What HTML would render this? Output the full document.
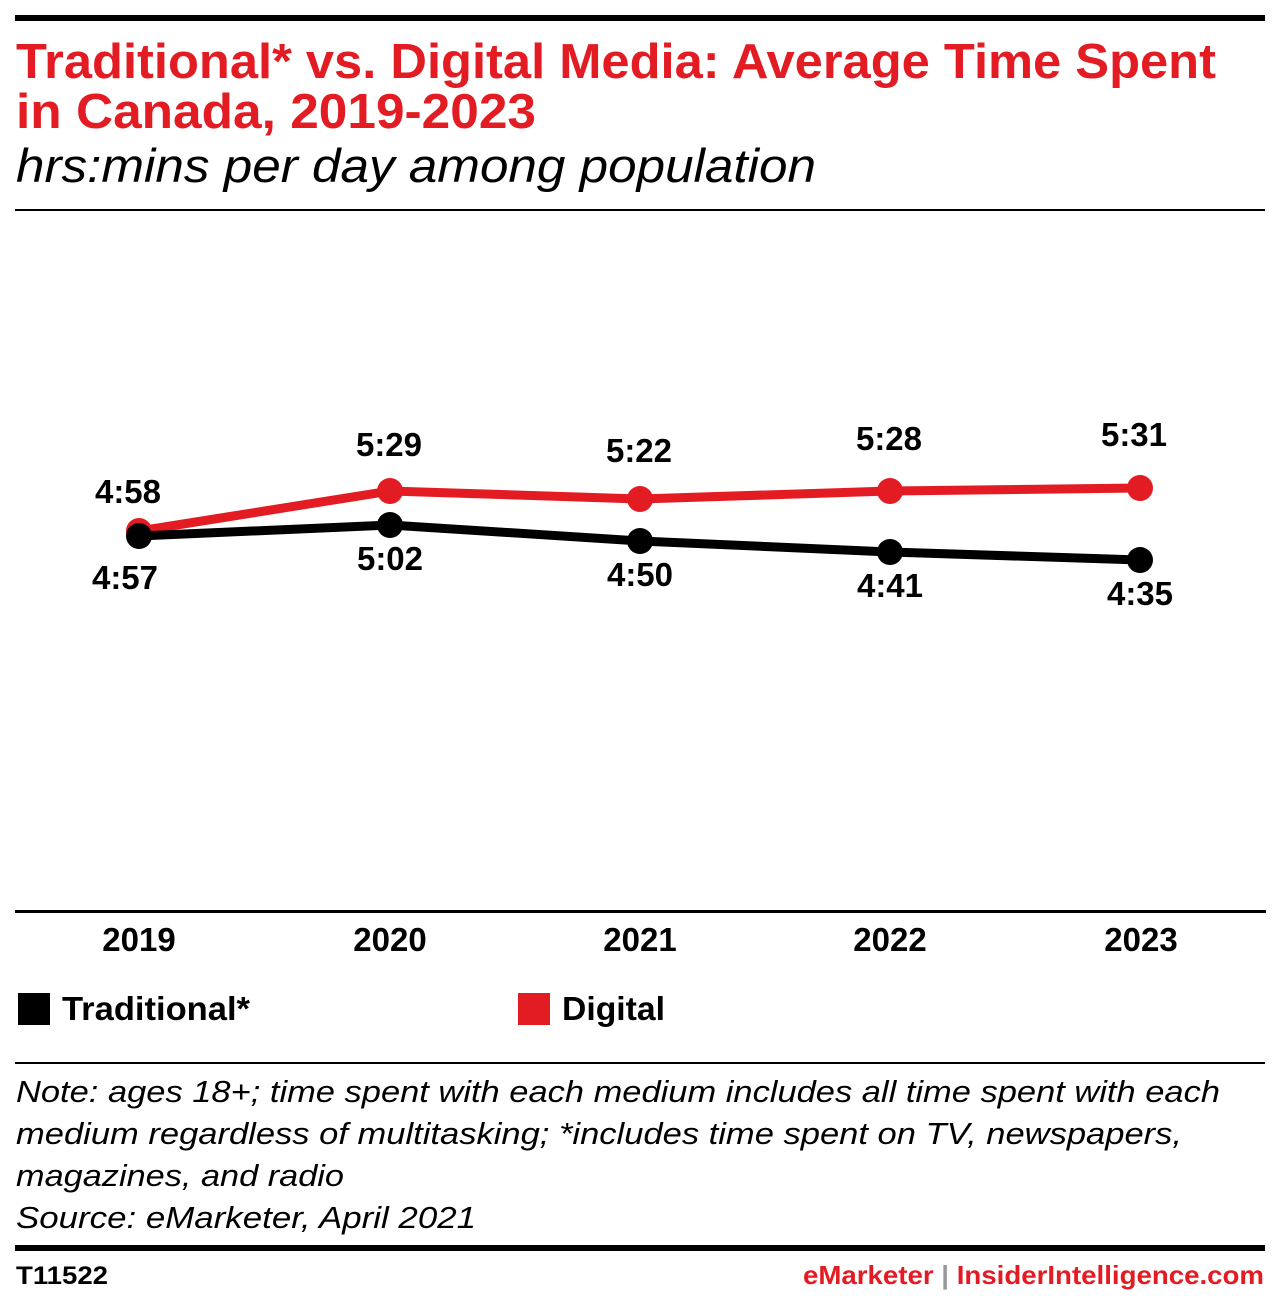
<!DOCTYPE html>
<html><head><meta charset="utf-8"><style>
body{margin:0;background:#fff;width:1280px;height:1291px;overflow:hidden;font-family:"Liberation Sans",sans-serif;}
</style></head><body>
<svg width="1280" height="1291" xmlns="http://www.w3.org/2000/svg" font-family="Liberation Sans, sans-serif">
<rect x="15" y="15" width="1250" height="6" fill="#000"/>
<text x="16" y="78" font-size="49" font-weight="bold" fill="#e31b23" textLength="1200" lengthAdjust="spacingAndGlyphs">Traditional* vs. Digital Media: Average Time Spent</text>
<text x="16" y="128" font-size="49" font-weight="bold" fill="#e31b23" textLength="520" lengthAdjust="spacingAndGlyphs">in Canada, 2019-2023</text>
<text x="16" y="182" font-size="47" font-style="italic" fill="#000" textLength="800" lengthAdjust="spacingAndGlyphs">hrs:mins per day among population</text>
<rect x="15" y="209" width="1250" height="2" fill="#000"/>
<polyline points="139,531 390,491 640,499 890,491 1140,488" fill="none" stroke="#e31b23" stroke-width="9"/>
<g fill="#e31b23"><circle cx="139" cy="531" r="13"/><circle cx="390" cy="491" r="13"/><circle cx="640" cy="499" r="13"/><circle cx="890" cy="491" r="13"/><circle cx="1140" cy="488" r="13"/></g>
<polyline points="139,536 390,525 640,541 890,552 1140,560" fill="none" stroke="#000" stroke-width="9"/>
<g fill="#000"><circle cx="139" cy="536" r="13"/><circle cx="390" cy="525" r="13"/><circle cx="640" cy="541" r="13"/><circle cx="890" cy="552" r="13"/><circle cx="1140" cy="560" r="13"/></g>
<g font-size="33" font-weight="bold" text-anchor="middle" fill="#000">
<text x="128" y="503">4:58</text><text x="389" y="456">5:29</text><text x="639" y="462">5:22</text><text x="889" y="450">5:28</text><text x="1134" y="446">5:31</text>
<text x="125" y="589">4:57</text><text x="390" y="570">5:02</text><text x="640" y="586">4:50</text><text x="890" y="597">4:41</text><text x="1140" y="605">4:35</text>
</g>
<rect x="15" y="910" width="1251" height="3" fill="#000"/>
<g font-size="33" font-weight="bold" text-anchor="middle" fill="#000">
<text x="139" y="951">2019</text><text x="390" y="951">2020</text><text x="640" y="951">2021</text><text x="890" y="951">2022</text><text x="1141" y="951">2023</text>
</g>
<rect x="18" y="993" width="32" height="32" fill="#000"/>
<text x="62" y="1020" font-size="33" font-weight="bold" textLength="188" lengthAdjust="spacingAndGlyphs">Traditional*</text>
<rect x="518" y="993" width="32" height="32" fill="#e31b23"/>
<text x="562" y="1020" font-size="33" font-weight="bold" textLength="103" lengthAdjust="spacingAndGlyphs">Digital</text>
<rect x="15" y="1062" width="1250" height="2" fill="#000"/>
<g font-size="31" font-style="italic" fill="#000" lengthAdjust="spacingAndGlyphs">
<text x="16" y="1102" textLength="1204" lengthAdjust="spacingAndGlyphs">Note: ages 18+; time spent with each medium includes all time spent with each</text>
<text x="16" y="1144" textLength="1166" lengthAdjust="spacingAndGlyphs">medium regardless of multitasking; *includes time spent on TV, newspapers,</text>
<text x="16" y="1186" textLength="328" lengthAdjust="spacingAndGlyphs">magazines, and radio</text>
<text x="16" y="1228" textLength="460" lengthAdjust="spacingAndGlyphs">Source: eMarketer, April 2021</text>
</g>
<rect x="15" y="1245" width="1250" height="6" fill="#000"/>
<text x="16" y="1284" font-size="25" font-weight="bold" textLength="92" lengthAdjust="spacingAndGlyphs">T11522</text>
<text x="803" y="1284" font-size="26" font-weight="bold" textLength="461" lengthAdjust="spacingAndGlyphs"><tspan fill="#e31b23">eMarketer</tspan><tspan fill="#999"> | </tspan><tspan fill="#e31b23">InsiderIntelligence.com</tspan></text>
</svg>
</body></html>
